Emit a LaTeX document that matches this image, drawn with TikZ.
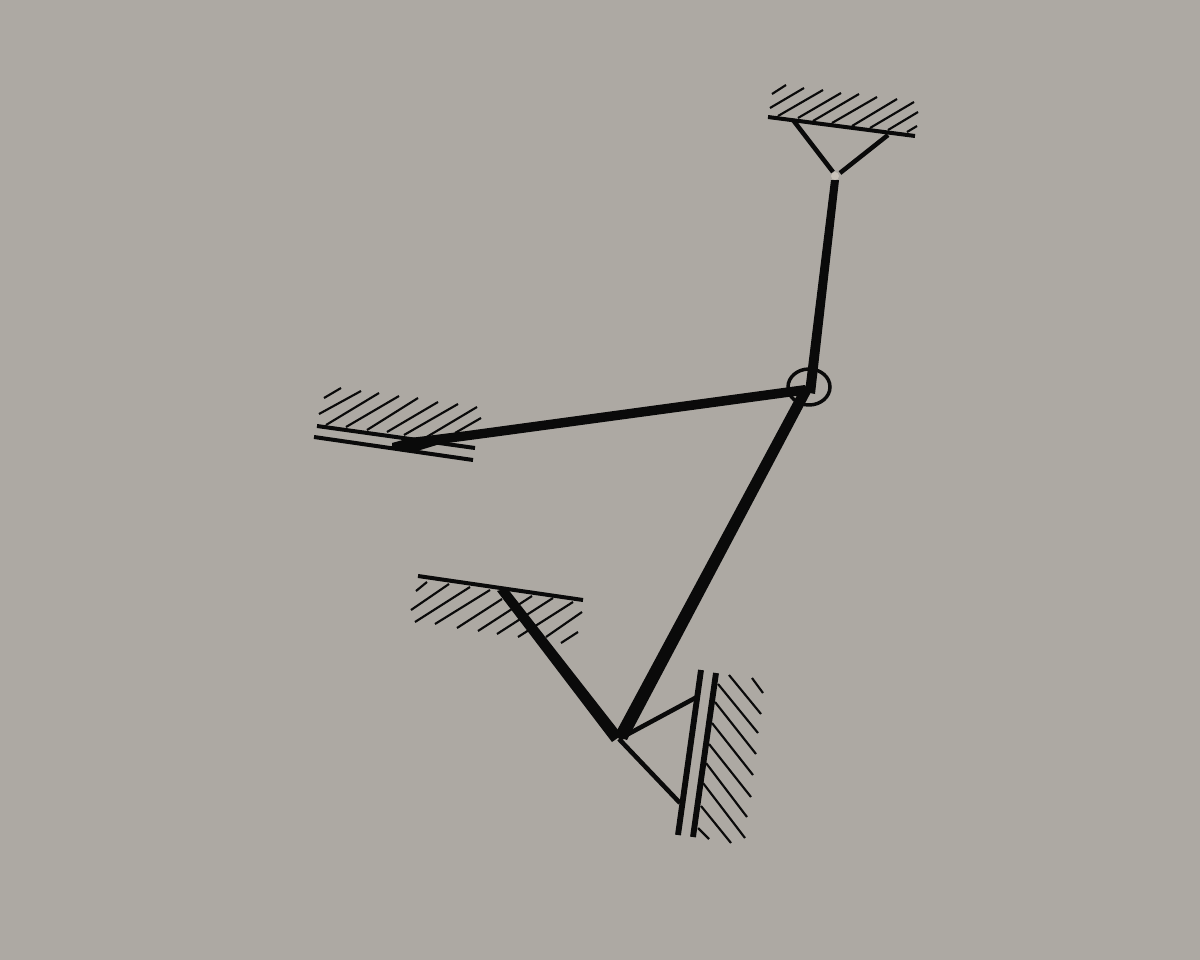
\documentclass[tikz,border=0pt]{standalone}
\definecolor{bgc}{HTML}{ADA9A3}
\definecolor{pinc}{HTML}{C9C3BA}
\definecolor{inkc}{HTML}{0A0A0A}
\tikzset{
  hatchline/.style={draw=inkc,line width=1.6pt},
  guideline/.style={draw=inkc,line width=3pt},
  strutline/.style={draw=inkc,line width=3.4pt},
  barshape/.style={fill=inkc,draw=none},
}
\newcommand{\hatchset}[1]{\foreach \xa/\ya/\xb/\yb in {#1} {\draw[hatchline] (\xa,\ya) -- (\xb,\yb);}}
\begin{document}
\begin{tikzpicture}[x=0.75pt,y=-0.75pt]
\useasboundingbox (0,0) rectangle (1200,960);
\fill[bgc] (0,0) rectangle (1200,960);
% joints
\coordinate (pinA) at (835,176);
\coordinate (hub) at (809,387);
\coordinate (strutTL) at (793,120);
\coordinate (strutTR) at (888,135);
\coordinate (knee) at (619,739);
\coordinate (strutRa) at (697,697);
\coordinate (strutRb) at (680,803);
% top support
\hatchset{772/94/786/85,770/108/804/88,778/116/823/90,798/118/841/93,813/121/859/94,832/123/877/97,852/126/897/99,870/128/914/102,888/130/918/112,907/132/917/126}
\draw[guideline] (768,117) -- (915,136);
\draw[strutline] (strutTL) -- (833,172);
\draw[strutline] (strutTR) -- (840,173);
% left guide
\hatchset{324/398/341/388,319/414/361/391,326/425/379/393,346/427/399/396,367/430/418/398,387/432/438/402,404/435/458/404,425/438/477/407,455/433/481/418}
\draw[guideline] (317,426) -- (475,448);
\draw[guideline] (314,437) -- (473,460);
% middle support
\hatchset{416/591/427/582,411/610/449/584,415/622/470/587,435/624/490/590,457/628/502/599,478/631/532/596,497/634/553/598,518/637/573/602,546/637/582/612,561/643/578/632}
\draw[guideline] (418,576) -- (583,600);
% right guide
\hatchset{729/675/761/714,752/678/763/693,718/684/758/733,715/702/756/754,712/723/753/775,709/744/751/797,706/763/747/817,703/783/745/838,701/806/731/843,698/828/709/839}
\draw[strutline,line width=4.4pt] (701,670) -- (678,835);
\draw[strutline,line width=4.4pt] (716,673) -- (693,837);
\draw[strutline] (knee) -- (strutRa);
\draw[strutline] (knee) -- (strutRb);
% bars
\fill[barshape] (831,180) -- (839,180) -- (815,394) -- (805,392) -- cycle;
\fill[barshape] (805,385) -- (810,394) -- (500,436) -- (440,444) -- (417,451) -- (392,449) -- (392,443) -- (410,438) -- (467,431) -- cycle;
\fill[barshape] (802,386) -- (811,392) -- (627,740) -- (614,736) -- cycle;
\fill[barshape] (497,591) -- (507,588) -- (622,735) -- (612,742) -- cycle;
% hub ring and pin
\draw[inkc,line width=2.6pt] (hub) ellipse [x radius=21,y radius=18];
\fill[pinc] (pinA) circle [radius=4];
\end{tikzpicture}
\end{document}
